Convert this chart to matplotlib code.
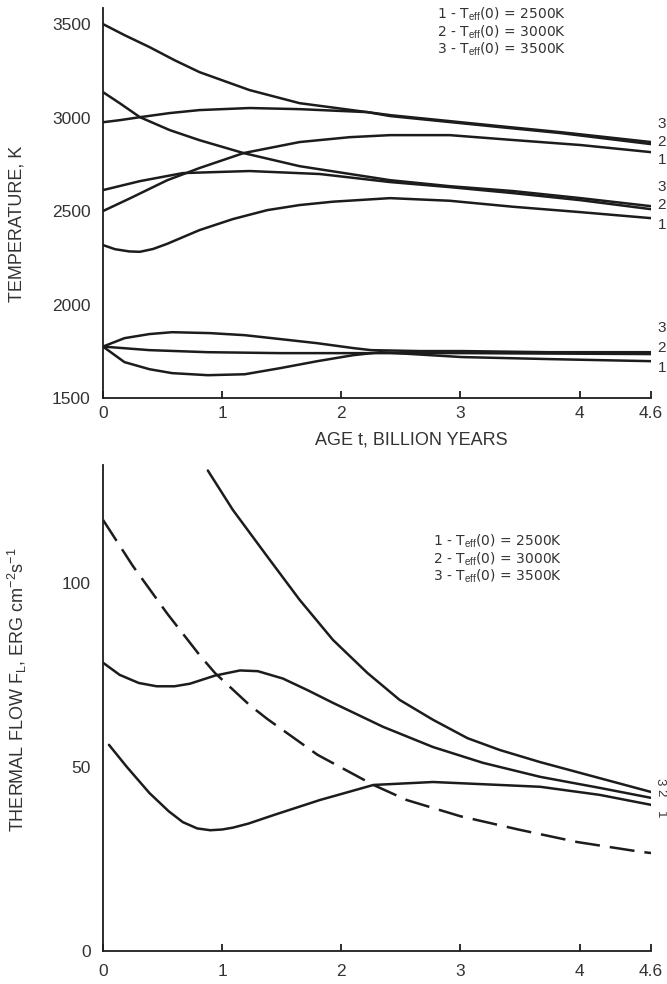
import matplotlib.pyplot as plt

plt.rcParams['font.family'] = ['Liberation Sans', 'DejaVu Sans']
plt.rcParams['mathtext.fontset'] = 'custom'
plt.rcParams['mathtext.rm'] = 'Liberation Sans'
plt.rcParams['mathtext.it'] = 'Liberation Sans:italic'

### AGE AXIS (billion years)
age_ticks = [0, 1, 2, 3, 4, 4.6]
age_labels = ['0', '1', '2', '3', '4', '4.6']

### TOP PANEL - temperature, K
# upper group (curves 3, 2, 1)
t_up3 = [0, .18, .39, .60, .81, 1.02, 1.23, 1.65, 2.22, 2.41, 2.91, 3.33, 3.84, 4.6]
T_up3 = [3500, 3441, 3377, 3307, 3243, 3195, 3147, 3077, 3029, 3013, 2981, 2954, 2922, 2869]
t_up2 = [0, .14, .31, .56, .81, 1.23, 1.65, 2.22, 2.41, 2.91, 3.33, 3.84, 4.6]
T_up2 = [2975, 2986, 3002, 3024, 3040, 3051, 3045, 3029, 3008, 2976, 2949, 2917, 2858]
t_up1 = [0, .23, .54, .81, 1.18, 1.65, 2.07, 2.41, 2.91, 3.44, 4.01, 4.6]
T_up1 = [2500, 2569, 2665, 2730, 2810, 2869, 2895, 2906, 2906, 2880, 2853, 2815]

# middle group
t_mid3 = [0, .14, .31, .56, .81, 1.18, 1.65, 2.41, 2.91, 3.44, 4.01, 4.6]
T_mid3 = [3136, 3077, 3002, 2933, 2879, 2810, 2740, 2665, 2633, 2607, 2569, 2526]
t_mid2 = [0, .31, .67, 1.23, 1.82, 2.41, 2.91, 3.44, 4.01, 4.6]
T_mid2 = [2612, 2660, 2703, 2714, 2698, 2655, 2628, 2596, 2558, 2510]
t_mid1 = [0, .10, .22, .31, .42, .54, .81, 1.09, 1.38, 1.65, 1.93, 2.41, 2.91, 3.44, 4.01, 4.6]
T_mid1 = [2318, 2296, 2284, 2282, 2297, 2325, 2398, 2457, 2505, 2532, 2550, 2569, 2555, 2523, 2494, 2462]

# lower group
t_low3 = [0, .18, .39, .58, .90, 1.19, 1.49, 1.80, 2.10, 2.25, 2.66, 3.01, 3.75, 4.6]
T_low3 = [1775, 1820, 1842, 1852, 1847, 1836, 1815, 1793, 1767, 1756, 1751, 1751, 1745, 1745]
t_low2 = [0, .39, .88, 1.49, 2.10, 3.01, 4.6]
T_low2 = [1775, 1756, 1745, 1740, 1740, 1740, 1735]
t_low1 = [0, .18, .39, .58, .88, 1.19, 1.49, 1.80, 2.10, 2.33, 3.01, 3.75, 4.6]
T_low1 = [1775, 1692, 1654, 1633, 1622, 1627, 1660, 1697, 1729, 1745, 1719, 1708, 1697]

top_end_labels = ['3', '2', '1', '3', '2', '1', '3', '2', '1']
top_end_T = [2965, 2869, 2772, 2628, 2532, 2425, 1874, 1767, 1660]

### BOTTOM PANEL - thermal flow
t_f3 = [.88, 1.09, 1.38, 1.65, 1.93, 2.22, 2.49, 2.77, 3.06, 3.33, 3.67, 4.06, 4.6]
F_3 = [130.5, 119.8, 107.1, 95.4, 84.5, 75.5, 68.2, 62.8, 57.8, 54.6, 51.3, 47.9, 43.2]
t_f2 = [0, .14, .30, .45, .60, .73, .94, 1.15, 1.30, 1.51, 1.72, 1.93, 2.35, 2.77, 3.19, 3.67, 4.17, 4.6]
F_2 = [78.3, 75.0, 72.8, 71.9, 71.9, 72.6, 74.8, 76.2, 76.0, 74.0, 70.8, 67.4, 60.9, 55.4, 51.1, 47.3, 44.3, 41.6]
t_f1 = [.05, .20, .39, .55, .67, .79, .90, 1.00, 1.09, 1.22, 1.44, 1.82, 2.27, 2.77, 3.33, 3.67, 4.17, 4.6]
F_1 = [56.0, 50.0, 42.9, 38.0, 35.0, 33.3, 32.8, 33.0, 33.5, 34.6, 37.0, 41.0, 45.1, 45.9, 45.1, 44.6, 42.4, 39.7]
t_dash = [0, .25, .54, .81, .94, 1.23, 1.38, 1.80, 2.27, 2.55, 3.0, 3.50, 3.98, 4.48, 4.6]
F_dash = [117.1, 104.6, 91.6, 80.4, 75.5, 66.8, 63.0, 53.3, 45.1, 41.0, 36.6, 32.9, 29.6, 27.1, 26.6]

bottom_end_labels = ['3', '2', '1']
bottom_end_F = [45.9, 42.9, 37.0]

legend_text = ('1 - T$_{\\mathrm{eff}}$(0) = 2500K\n'
               '2 - T$_{\\mathrm{eff}}$(0) = 3000K\n'
               '3 - T$_{\\mathrm{eff}}$(0) = 3500K')

ink = '#1c1c1c'
txt = '#333333'
lw = 1.8

fig = plt.figure(figsize=(6.67, 9.84), dpi=100)
ax1 = fig.add_axes([103/667, 1 - 398/984, 548/667, 390/984])
ax2 = fig.add_axes([103/667, 1 - 951/984, 548/667, 486/984])

for t, T in [(t_up3, T_up3), (t_up2, T_up2), (t_up1, T_up1),
             (t_mid3, T_mid3), (t_mid2, T_mid2), (t_mid1, T_mid1),
             (t_low3, T_low3), (t_low2, T_low2), (t_low1, T_low1)]:
    ax1.plot(t, T, color=ink, lw=lw, solid_capstyle='round', solid_joinstyle='round')

for t, F in [(t_f3, F_3), (t_f2, F_2), (t_f1, F_1)]:
    ax2.plot(t, F, color=ink, lw=lw, solid_capstyle='round', solid_joinstyle='round')
ax2.plot(t_dash, F_dash, color=ink, lw=lw, dashes=(10, 4))

ax1.set_ylim(1500, 3586)
ax1.set_yticks([1500, 2000, 2500, 3000, 3500])
ax2.set_ylim(0, 132)
ax2.set_yticks([0, 50, 100])

for ax in (ax1, ax2):
    ax.set_xlim(0, 4.6)
    ax.set_xticks(age_ticks)
    ax.set_xticklabels(age_labels)
    ax.spines['top'].set_visible(False)
    ax.spines['right'].set_visible(False)
    for side in ('left', 'bottom'):
        ax.spines[side].set_linewidth(1.3)
        ax.spines[side].set_color(ink)
    ax.tick_params(axis='x', direction='in', length=5, width=1.3, color=ink,
                   labelsize=12.5, labelcolor=txt)
    ax.tick_params(axis='y', length=0, pad=9, labelsize=12.5, labelcolor=txt)
    ax.set_facecolor('none')

ax1.tick_params(axis='x', pad=6)
ax2.tick_params(axis='x', pad=9)

for lab, T in zip(top_end_labels, top_end_T):
    ax1.text(4.69, T, lab, fontsize=11, color=txt, ha='center', va='center', clip_on=False)
for lab, F in zip(bottom_end_labels, bottom_end_F):
    ax2.text(4.675, F, lab, fontsize=9.5, color=txt, ha='center', va='center',
             rotation=-90, clip_on=False)

fig.text(17/667, 1 - 224/984, 'TEMPERATURE, K', rotation=90, ha='center', va='center',
         fontsize=13, color=txt)
fig.text(411/667, 1 - 440/984, 'AGE t, BILLION YEARS', ha='center', va='center',
         fontsize=13, color=txt)
fig.text(17/667, 1 - 690/984, 'THERMAL FLOW F$_{\\mathrm{L}}$, ERG cm$^{-2}$s$^{-1}$',
         rotation=90, ha='center', va='center', fontsize=13, color=txt)

fig.text(437/667, 1 - 6/984, legend_text, ha='left', va='top', fontsize=10,
         family='DejaVu Sans', color=txt, linespacing=1.0)
fig.text(433/667, 1 - 533/984, legend_text, ha='left', va='top', fontsize=10,
         family='DejaVu Sans', color=txt, linespacing=1.0)

fig.savefig('out.png', dpi=100)
